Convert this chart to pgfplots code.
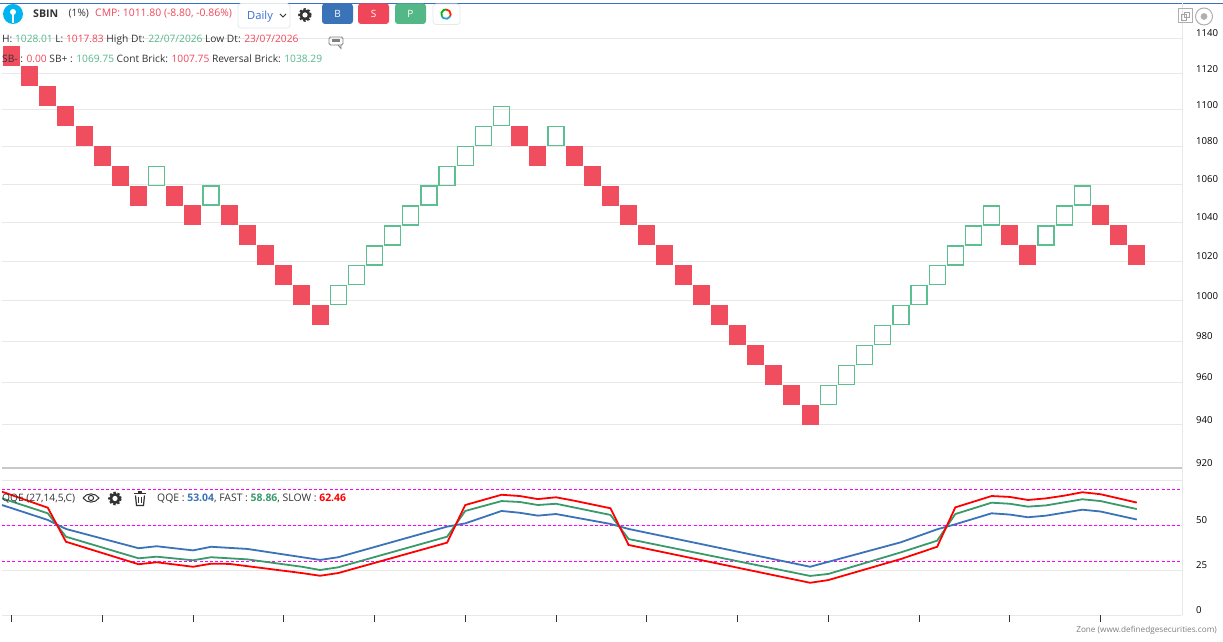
\documentclass[border=0pt]{standalone}
\usepackage{fontspec}
\usepackage{pgfplots}
\pgfplotsset{compat=1.18}
\usepackage{pgfplotstable}
\setmainfont{Open Sans}
\definecolor{brickred}{HTML}{F04D5F}
\definecolor{brickgreen}{HTML}{5BBF90}
\definecolor{txtred}{HTML}{F0465A}
\definecolor{txtgreen}{HTML}{55B88C}
\definecolor{txt}{HTML}{333333}
\definecolor{gridc}{HTML}{E8E8E8}
\definecolor{qblue}{HTML}{3B73B9}
\definecolor{qgreen}{HTML}{3A9A6C}
\definecolor{dashm}{HTML}{FF00FF}
\pgfdeclareplotmark{brickfill}{\pgfpathrectangle{\pgfpoint{-8.5pt}{-10pt}}{\pgfpoint{17pt}{20pt}}\pgfusepathqfill}
\pgfdeclareplotmark{brickline}{\pgfpathrectangle{\pgfpoint{-8pt}{-9.5pt}}{\pgfpoint{16pt}{19pt}}\pgfusepathqstroke}
\pgfplotstableread{
i v
0 1129.93
1 1118.74
2 1107.66
3 1096.70
4 1085.84
5 1075.09
6 1064.44
7 1053.90
9 1053.90
10 1043.47
12 1043.47
13 1033.14
14 1022.91
15 1012.78
16 1002.75
17 992.82
28 1085.84
29 1075.09
31 1075.09
32 1064.44
33 1053.90
34 1043.47
35 1033.14
36 1022.91
37 1012.78
38 1002.75
39 992.82
40 982.99
41 973.26
42 963.63
43 954.09
44 944.64
55 1033.14
56 1022.91
60 1043.47
61 1033.14
62 1022.91
}\redbricks
\pgfplotstableread{
i v
8 1064.44
11 1053.90
18 1002.75
19 1012.78
20 1022.91
21 1033.14
22 1043.47
23 1053.90
24 1064.44
25 1075.09
26 1085.84
27 1096.70
30 1085.84
45 954.09
46 963.63
47 973.26
48 982.99
49 992.82
50 1002.75
51 1012.78
52 1022.91
53 1033.14
54 1043.47
57 1033.14
58 1043.47
59 1053.90
}\greenbricks
\pgfplotstableread{
i v
-0.52 61.1
2 52.8
3 47.8
7 37.1
8 38.2
10 35.9
11 37.9
13 36.7
17 30.6
18 32.1
24 49.1
25 50.9
27 57.8
28 56.8
29 55.2
30 56.1
33 50.6
34 47.8
44 26.8
49 40.4
51 47.6
52 50.4
54 56.5
55 55.8
56 54.3
57 55.2
59 58.5
60 57.5
62 53.04
}\qqeline
\pgfplotstableread{
i v
-0.52 64.8
2 56.5
3 43.5
7 31.5
8 32.4
10 30.4
11 32.1
13 30.9
16 26.8
17 25.0
18 26.5
24 43.5
25 57.8
27 63.3
28 62.8
29 61.1
30 61.8
33 55.6
34 42.2
44 21.7
45 22.8
49 34.8
51 41.3
52 56.1
54 62.4
55 61.8
56 60.2
57 60.9
59 64.3
60 63.3
62 58.86
}\fastline
\pgfplotstableread{
i v
-0.52 68.5
2 59.6
3 40.7
7 28.2
8 29.3
10 26.8
11 28.5
12 28.4
16 23.3
17 21.8
18 23.3
24 40.2
25 61.1
27 66.8
28 66.1
29 64.4
30 65.4
31 63.5
33 59.3
34 38.9
44 17.9
45 19.4
49 31.1
51 37.9
52 59.8
54 66.1
55 65.6
56 63.9
57 64.8
58 66.3
59 68.2
60 67.1
62 62.46
}\slowline
\newcommand{\gear}[3][txt]{%
  \draw[#1,line width=2.4pt,dash pattern=on 2.1pt off 1.9pt] (#2,#3) circle (5.6pt);
  \fill[#1] (#2,#3) circle (5.6pt);
  \fill[white] (#2,#3) circle (2.6pt);}
\begin{document}
\begin{tikzpicture}
\useasboundingbox (0pt,0pt) rectangle (1223pt,642pt);
\fill[white] (0pt,0pt) rectangle (1223pt,642pt);
% price panel
\begin{axis}[at={(2pt,174pt)},anchor=south west,scale only axis,width=1180pt,height=465pt,
  ymode=log,xmin=-0.523,xmax=64.49,ymin=920,ymax=1160.35,
  axis line style={draw=none},tick style={draw=none},
  xtick=\empty,ytick pos=right,yticklabel pos=right,
  ytick={920,940,960,980,1000,1020,1040,1060,1080,1100,1120,1140},
  yticklabels={920,940,960,980,1000,1020,1040,1060,1080,1100,1120,1140},
  yticklabel style={anchor=west,inner sep=0pt,xshift=14pt,yshift=5pt,font=\fontsize{9.6}{11}\selectfont,text=black},
  ymajorgrids,grid style={gridc,line width=0.8pt},clip=false]
\addplot[only marks,mark=brickfill,mark options={fill=brickred,draw=none}] table[x=i,y=v]{\redbricks};
\addplot[only marks,mark=brickline,mark options={draw=brickgreen,line width=1.3pt}] table[x=i,y=v]{\greenbricks};
\end{axis}
% QQE panel
\begin{axis}[at={(2pt,27pt)},anchor=south west,scale only axis,width=1180pt,height=135pt,
  xmin=-0.523,xmax=64.49,ymin=0,ymax=75,
  axis line style={draw=none},
  ytick={0,25,50,75},yticklabels={0,25,50,},
  ytick pos=right,yticklabel pos=right,
  y tick style={draw=none},
  yticklabel style={anchor=west,inner sep=0pt,xshift=7pt,yshift=5pt,font=\fontsize{9.6}{11}\selectfont,text=black},
  xtick={0,5,10,15,20,25,30,35,40,45,50,55,60},xticklabels={},
  x tick style={draw=txt,line width=0.7pt},xtick pos=bottom,tick align=outside,major tick length=7pt,
  ymajorgrids,grid style={gridc,line width=0.8pt}]
\addplot[dashm,line width=0.7pt,dash pattern=on 3pt off 2.2pt] coordinates {(-0.523,70)(64.49,70)};
\addplot[dashm,line width=0.7pt,dash pattern=on 3pt off 2.2pt] coordinates {(-0.523,50)(64.49,50)};
\addplot[dashm,line width=0.7pt,dash pattern=on 3pt off 2.2pt] coordinates {(-0.523,30)(64.49,30)};
\addplot[qblue,line width=1.8pt] table[x=i,y=v]{\qqeline};
\addplot[qgreen,line width=1.8pt] table[x=i,y=v]{\fastline};
\addplot[red,line width=1.8pt] table[x=i,y=v]{\slowline};
\end{axis}
\begin{scope}[x=1pt,y=-1pt,yshift=642pt,
  t/.style={anchor=west,inner sep=0pt,font=\fontsize{10.2}{12}\selectfont,text=txt}]
% frame lines
\draw[color={rgb,255:red,58;green,111;blue,196},line width=1.2pt] (0,3.2) -- (1223,3.2);
\draw[color={rgb,255:red,200;green,200;blue,200},line width=1.6pt] (2,468) -- (1182,468);
\draw[gridc,line width=0.8pt] (1182.5,3.5) -- (1182.5,615);
% header
\fill[color={rgb,255:red,0;green,181;blue,239}] (13,14) circle (10pt);
\fill[white] (13,12) circle (3pt);
\fill[white] (12,12) rectangle (14,23.5);
\node[t,font=\fontsize{10.6}{12}\selectfont\bfseries] at (33,14) {SBIN};
\node[t] at (68.5,14) {(1\%)};
\node[t,font=\fontsize{10.4}{12}\selectfont] at (95,14) {\textcolor{txtred}{CMP: 1011.80 (-8.80, -0.86\%)}};
\draw[color={rgb,255:red,226;green,230;blue,240},line width=0.7pt,rounded corners=3pt] (238,3.5) rectangle (290,28);
\node[t,font=\fontsize{11.2}{13}\selectfont,text={rgb,255:red,58;green,111;blue,216}] at (247,16.5) {Daily};
\draw[txt,line width=1pt] (280,14) -- (283,17) -- (286,14);
\gear{305}{15}
\fill[qblue,rounded corners=3pt] (322,3.5) rectangle (353,24);
\node[text=white,inner sep=0pt,font=\fontsize{10}{12}\selectfont] at (337.5,14) {B};
\fill[color=txtred,rounded corners=3pt] (358,3.5) rectangle (389,24);
\node[text=white,inner sep=0pt,font=\fontsize{10}{12}\selectfont] at (373.5,14) {S};
\fill[color={rgb,255:red,83;green,183;blue,135},rounded corners=3pt] (395,3.5) rectangle (426,24);
\node[text=white,inner sep=0pt,font=\fontsize{10}{12}\selectfont] at (410.5,14) {P};
\draw[color={rgb,255:red,232;green,232;blue,232},fill=white,line width=0.8pt,rounded corners=3pt] (433,4) rectangle (460,24.5);
\draw[red!70!orange,line width=1.8pt] (446,9.5) arc (90:-30:4.7pt);
\draw[qblue!70!cyan,line width=1.8pt] (450.1,16.5) arc (-30:-150:4.7pt);
\draw[green!70!black,line width=1.8pt] (441.9,16.5) arc (-150:-270:4.7pt);
% info rows
\node[t] at (2,39.5) {H: \textcolor{txtgreen}{1028.01} L: \textcolor{txtred}{1017.83} High Dt: \textcolor{txtgreen}{22/07/2026} Low Dt: \textcolor{txtred}{23/07/2026}};
\node[t] at (2,58.5) {SB- : \textcolor{txtred}{0.00} SB+ : \textcolor{txtgreen}{1069.75} Cont Brick: \textcolor{txtred}{1007.75} Reversal Brick: \textcolor{txtgreen}{1038.29}};
% comment icon
\draw[gray,line width=0.8pt,rounded corners=1.5pt] (329,37) rectangle (343,45);
\fill[gray] (332,39.5) rectangle (340,42.5);
\draw[gray,line width=0.8pt] (338,45) -- (341,48.5) -- (341,45);
% top-right icons
\draw[color={rgb,255:red,175;green,175;blue,175},line width=1pt] (1178,9) rectangle (1192,23);
\draw[color={rgb,255:red,165;green,165;blue,165},line width=0.9pt] (1181,14) rectangle (1186,20) (1184,12) rectangle (1189,17);
\draw[color={rgb,255:red,175;green,175;blue,175},line width=1pt] (1204,16.5) circle (8.5pt);
\fill[color={rgb,255:red,175;green,175;blue,175}] (1204,16.5) circle (3.4pt);
% QQE header
\node[t] at (2,498.5) {QQE (27,14,5,C)};
\draw[txt,line width=1pt] (83,498) .. controls (87,492.5) and (95,492.5) .. (99,498) .. controls (95,503.5) and (87,503.5) .. (83,498);
\draw[txt,line width=1pt] (91,498) circle (2.6pt);
\gear{115}{498.5}
\fill[txt] (134,493) rectangle (146,494.5);
\fill[txt] (138,491.5) rectangle (142,493);
\draw[txt,line width=1.2pt] (135.5,495.5) -- (136.5,505.5) -- (143.5,505.5) -- (144.5,495.5);
\draw[txt,line width=0.8pt] (138.5,497) -- (138.5,503.5) (141.5,497) -- (141.5,503.5);
\node[t,font=\fontsize{10.4}{12}\selectfont] at (157,498.5) {QQE : \textcolor{qblue}{\bfseries 53.04}, FAST : \textcolor{qgreen}{\bfseries 58.86}, SLOW : \textcolor{red}{\bfseries 62.46}};
\node[anchor=east,inner sep=0pt,font=\fontsize{8.2}{10}\selectfont,text=gray] at (1217,630) {Zone (www.definedgesecurities.com)};
\end{scope}
\end{tikzpicture}
\end{document}
